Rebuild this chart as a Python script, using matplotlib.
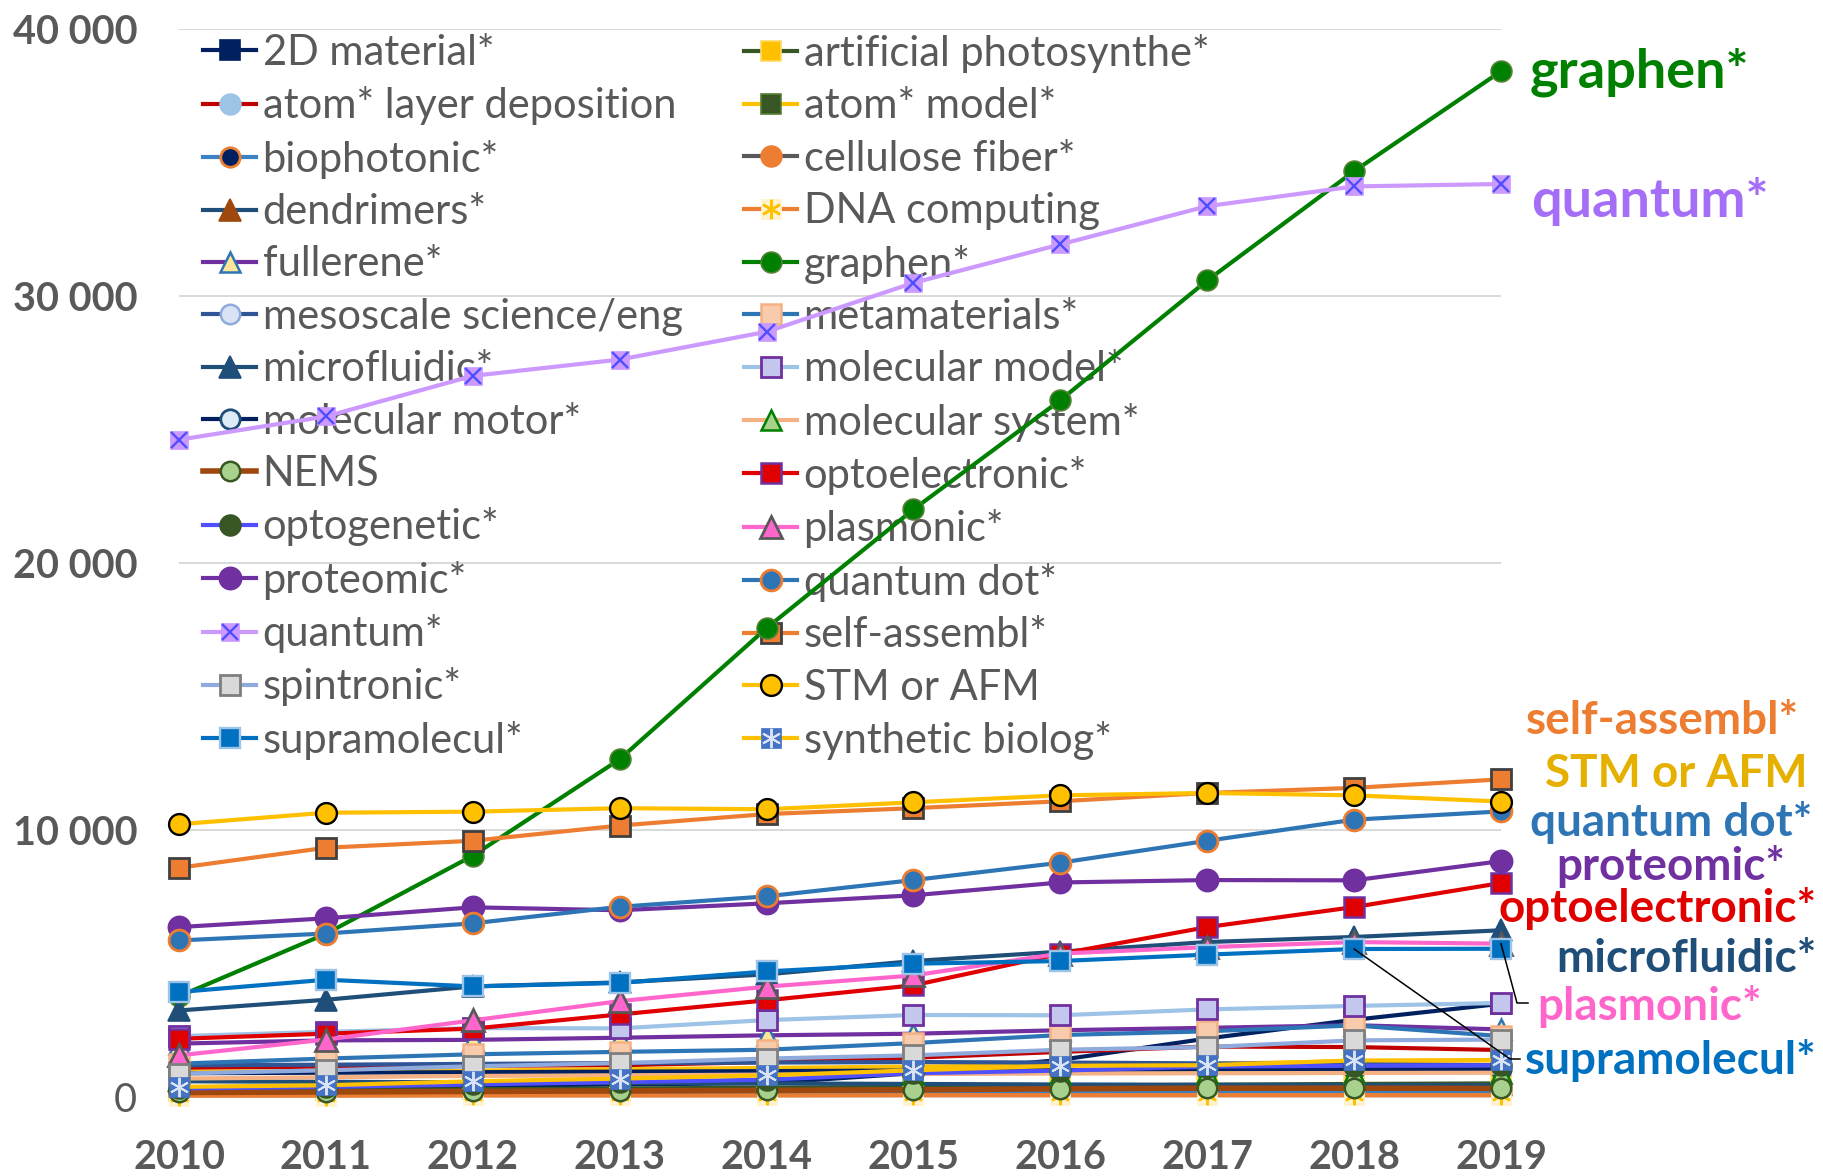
import matplotlib
matplotlib.use("Agg")
import matplotlib.pyplot as plt
from matplotlib.lines import Line2D
from matplotlib.legend_handler import HandlerTuple

plt.rcParams['font.family'] = ['Lato', 'DejaVu Sans']

years = [2010, 2011, 2012, 2013, 2014, 2015, 2016, 2017, 2018, 2019]
year_labels = ['2010', '2011', '2012', '2013', '2014', '2015', '2016', '2017', '2018', '2019']
y_ticks = [0, 10000, 20000, 30000, 40000]
y_tick_labels = ['0', '10 000', '20 000', '30 000', '40 000']

series_names = ['2D material*', 'artificial photosynthe*', 'atom* layer deposition', 'atom* model*',
                'biophotonic*', 'cellulose fiber*', 'dendrimers*', 'DNA computing', 'fullerene*',
                'graphen*', 'mesoscale science/eng', 'metamaterials*', 'microfluidic*',
                'molecular model*', 'molecular motor*', 'molecular system*', 'NEMS',
                'optoelectronic*', 'optogenetic*', 'plasmonic*', 'proteomic*', 'quantum dot*',
                'quantum*', 'self-assembl*', 'spintronic*', 'STM or AFM', 'supramolecul*',
                'synthetic biolog*']

v_2d_material = [380, 400, 430, 480, 530, 900, 1400, 2200, 2900, 3500]
v_artificial_photosynthe = [250, 280, 300, 330, 360, 390, 430, 470, 500, 520]
v_atom_layer_deposition = [1100, 1150, 1180, 1200, 1320, 1480, 1700, 1900, 1880, 1770]
v_atom_model = [950, 980, 1000, 1050, 1100, 1150, 1200, 1250, 1350, 1400]
v_biophotonic = [150, 160, 170, 180, 190, 200, 200, 210, 210, 210]
v_cellulose_fiber = [120, 150, 180, 220, 260, 300, 340, 380, 420, 450]
v_dendrimers = [600, 580, 560, 540, 520, 500, 480, 470, 460, 450]
v_dna_computing = [60, 60, 70, 70, 70, 80, 80, 80, 80, 80]
v_fullerene = [2010, 2130, 2150, 2230, 2320, 2380, 2510, 2600, 2700, 2540]
v_graphen = [3780, 6120, 9040, 12650, 17560, 22000, 26090, 30570, 34660, 38400]
v_mesoscale = [1200, 1220, 1250, 1280, 1300, 1320, 1300, 1270, 1250, 1200]
v_metamaterials = [1260, 1450, 1610, 1700, 1780, 2030, 2330, 2470, 2690, 2290]
v_microfluidic = [3250, 3650, 4150, 4300, 4600, 5100, 5450, 5810, 6000, 6250]
v_molecular_model = [2290, 2450, 2590, 2580, 2890, 3080, 3070, 3290, 3420, 3530]
v_molecular_motor = [900, 920, 940, 960, 980, 1000, 1020, 1040, 1050, 1050]
v_molecular_system = [700, 750, 800, 820, 850, 870, 890, 900, 910, 920]
v_nems = [180, 200, 220, 240, 260, 280, 320, 340, 340, 330]
v_optoelectronic = [2190, 2380, 2570, 3100, 3630, 4190, 5370, 6370, 7120, 8020]
v_optogenetic = [330, 390, 480, 570, 660, 900, 1000, 1150, 1180, 1200]
v_plasmonic = [1570, 2160, 2880, 3600, 4140, 4560, 5380, 5620, 5810, 5750]
v_proteomic = [6370, 6700, 7110, 7000, 7260, 7560, 8040, 8130, 8120, 8840]
v_quantum_dot = [5870, 6130, 6510, 7130, 7520, 8130, 8780, 9600, 10390, 10700]
v_quantum = [24610, 25480, 27000, 27610, 28650, 30480, 31920, 33350, 34090, 34180]
v_self_assembl = [8590, 9340, 9600, 10170, 10600, 10820, 11080, 11390, 11580, 11900]
v_spintronic = [890, 1010, 1160, 1280, 1450, 1570, 1780, 1880, 2130, 2160]
v_stm_afm = [10220, 10650, 10690, 10820, 10780, 11040, 11300, 11390, 11300, 11070]
v_supramolecul = [3940, 4400, 4150, 4280, 4710, 5000, 5100, 5340, 5550, 5560]
v_synthetic_biolog = [390, 450, 600, 700, 820, 1010, 1180, 1200, 1380, 1380]

values = [v_2d_material, v_artificial_photosynthe, v_atom_layer_deposition, v_atom_model,
          v_biophotonic, v_cellulose_fiber, v_dendrimers, v_dna_computing, v_fullerene,
          v_graphen, v_mesoscale, v_metamaterials, v_microfluidic, v_molecular_model,
          v_molecular_motor, v_molecular_system, v_nems, v_optoelectronic, v_optogenetic,
          v_plasmonic, v_proteomic, v_quantum_dot, v_quantum, v_self_assembl, v_spintronic,
          v_stm_afm, v_supramolecul, v_synthetic_biolog]

# style: (line colour, line width, [marker layers: (marker, size, face, edge, edgewidth)])
AST = (6, 2, 0)
styles = [
    ('#002060', 3.0, [('s', 14, '#002060', '#002060', 1.2)]),
    ('#375623', 3.0, [('s', 14, '#FFC000', '#FFD966', 1.2)]),
    ('#C00000', 3.0, [('o', 15, '#9DC3E6', '#9DC3E6', 1.2)]),
    ('#FFC000', 3.0, [('s', 14, '#375623', '#548235', 1.2)]),
    ('#3B82C4', 3.0, [('o', 14, '#002060', '#ED7D31', 2.0)]),
    ('#595959', 3.0, [('o', 15, '#ED7D31', '#ED7D31', 1.2)]),
    ('#1F4E79', 3.0, [('^', 16, '#9E480E', '#9E480E', 1.2)]),
    ('#ED7D31', 3.0, [('s', 14, '#FFF2CC', '#FFF2CC', 0.5), (AST, 14, '#FFC000', '#FFC000', 1.8)]),
    ('#7030A0', 3.0, [('^', 15, '#FFE699', '#2E75B6', 1.8)]),
    ('#008000', 3.0, [('o', 15, '#008000', '#548235', 1.2)]),
    ('#2F5597', 3.0, [('o', 14, '#DAE3F3', '#8FAADC', 1.8)]),
    ('#2E75B6', 3.0, [('s', 15, '#F8CBAD', '#F4B183', 1.8)]),
    ('#1F4E79', 3.0, [('^', 16, '#1F4E79', '#1F4E79', 1.2)]),
    ('#9DC3E6', 3.0, [('s', 14, '#C3C7EE', '#7030A0', 2.0)]),
    ('#002060', 3.0, [('o', 14, '#DEEBF7', '#1F4E79', 2.0)]),
    ('#F4B183', 3.0, [('^', 15, '#A9D18E', '#008000', 1.8)]),
    ('#9E480E', 4.0, [('o', 14, '#A9D18E', '#385723', 1.8)]),
    ('#E00000', 3.0, [('s', 15, '#E00000', '#7030A0', 1.8)]),
    ('#4F4FFF', 3.0, [('o', 15, '#375623', '#375623', 1.2)]),
    ('#FF66CC', 3.0, [('^', 16, '#FF66CC', '#595959', 2.0)]),
    ('#7030A0', 3.0, [('o', 16, '#7030A0', '#7030A0', 1.2)]),
    ('#2E75B6', 3.0, [('o', 15, '#2E75B6', '#ED7D31', 2.0)]),
    ('#CC99FF', 3.0, [('s', 13, '#CC99FF', '#CC99FF', 0.5), ('x', 11, '#4F4FFF', '#4F4FFF', 1.7)]),
    ('#ED7D31', 3.0, [('s', 15, '#ED7D31', '#404040', 2.0)]),
    ('#8FAADC', 3.0, [('s', 15, '#D9D9D9', '#7F7F7F', 2.0)]),
    ('#FFC000', 3.0, [('o', 15, '#FFC000', '#000000', 1.7)]),
    ('#0070C0', 3.0, [('s', 15, '#0070C0', '#9DC3E6', 1.7)]),
    ('#FFC000', 3.0, [('s', 15, '#4472C4', '#4472C4', 0.5), (AST, 14, '#DAE3F3', '#DAE3F3', 1.4)]),
]

W, H = 1823, 1176
fig = plt.figure(figsize=(W / 100, H / 100), dpi=100)
ax = fig.add_axes([179 / W, 1 - 1097.3 / H, (1501 - 179) / W, (1097.3 - 28.5) / H])

handles = []
for i, (name, vals, (lc, lw, layers)) in enumerate(zip(series_names, values, styles)):
    z = 3 + i * 0.01
    parts = []
    ax.plot(years, vals, color=lc, lw=lw, zorder=z, clip_on=False,
            solid_capstyle='round', solid_joinstyle='round')
    for (m, ms, fc, ec, mew) in layers:
        ax.plot(years, vals, linestyle='none', marker=m, markersize=ms,
                markerfacecolor=fc, markeredgecolor=ec, markeredgewidth=mew,
                zorder=z + 0.001, clip_on=False)
    for k, (m, ms, fc, ec, mew) in enumerate(layers):
        if k == 0:
            parts.append(Line2D([], [], color=lc, lw=lw, marker=m, markersize=ms,
                                markerfacecolor=fc, markeredgecolor=ec, markeredgewidth=mew))
        else:
            parts.append(Line2D([], [], linestyle='none', marker=m, markersize=ms,
                                markerfacecolor=fc, markeredgecolor=ec, markeredgewidth=mew))
    handles.append(tuple(parts) if len(parts) > 1 else parts[0])

ax.set_xlim(2010, 2019)
ax.set_ylim(0, 40000)
ax.set_xticks(years)
ax.set_xticklabels(year_labels)
ax.set_yticks(y_ticks)
ax.set_yticklabels(y_tick_labels)
ax.tick_params(axis='both', length=0, labelcolor='#595959', labelsize=28.5)
ax.tick_params(axis='y', pad=30)
ax.tick_params(axis='x', pad=30)
for lbl in ax.get_xticklabels():
    lbl.set_fontweight('bold')
for lbl in ax.get_yticklabels():
    lbl.set_fontweight('normal' if lbl.get_text() == '0' else 'bold')
ax.yaxis.grid(True, color='#D9D9D9', lw=1.4, zorder=0)
ax.set_axisbelow(True)
for s in ['top', 'right', 'left']:
    ax.spines[s].set_visible(False)
ax.spines['bottom'].set_color('#D9D9D9')
ax.spines['bottom'].set_linewidth(1.4)

leg_kw = dict(frameon=False, fontsize=30, labelcolor='#595959', handlelength=1.28,
              handletextpad=0.15, labelspacing=0.345, borderpad=0, borderaxespad=0,
              loc='upper left', bbox_transform=fig.transFigure,
              handler_map={tuple: HandlerTuple(ndivide=1)})
idx1 = list(range(0, 28, 2))
idx2 = list(range(1, 28, 2))
leg1 = ax.legend([handles[i] for i in idx1], [series_names[i] for i in idx1],
                 bbox_to_anchor=(203 / W, 1 - 34 / H), **leg_kw)
leg1.set_zorder(1)
ax.add_artist(leg1)
leg2 = ax.legend([handles[i] for i in idx2], [series_names[i] for i in idx2],
                 bbox_to_anchor=(744 / W, 1 - 34 / H), **leg_kw)
leg2.set_zorder(1)

# series annotations at the right
big = [('graphen*', '#008000', 1639, 72), ('quantum*', '#A56EF7', 1650, 201)]
small = [('self-assembl*', '#ED7D31', 1662, 721), ('STM or AFM', '#E6B000', 1676, 774),
         ('quantum dot*', '#2E75B6', 1671, 823), ('proteomic*', '#7030A0', 1671, 866),
         ('optoelectronic*', '#E00000', 1658, 909), ('microfluidic*', '#1F4E79', 1686, 959),
         ('plasmonic*', '#FF66CC', 1649, 1007), ('supramolecul*', '#0070C0', 1671, 1061)]
for t, c, x, y in big:
    fig.text(x / W, 1 - y / H, t, color=c, fontsize=39, fontweight='bold', ha='center', va='center')
for t, c, x, y in small:
    fig.text(x / W, 1 - y / H, t, color=c, fontsize=33, fontweight='bold', ha='center', va='center')

# leader lines
fig.canvas.draw()
def leader(year, val, pts):
    px, py = ax.transData.transform((year, val))
    xs = [px] + [p[0] for p in pts]
    ys = [py] + [H - p[1] for p in pts]
    fig.add_artist(Line2D(xs, ys, transform=None, color='black', lw=1.1, zorder=20))
leader(years[-1], v_plasmonic[-1], [(1517, 1003), (1528, 1003)])
leader(years[-2], v_supramolecul[-2], [(1510, 1059), (1520, 1059)])

fig.savefig('out.png', dpi=100)
